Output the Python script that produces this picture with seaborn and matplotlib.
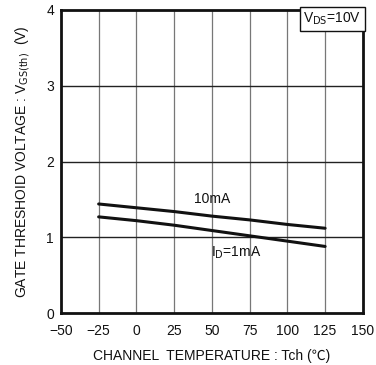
import matplotlib
matplotlib.use("Agg")
import matplotlib.pyplot as plt
import seaborn as sns
import pandas as pd

temps = [-25, 0, 25, 50, 75, 100, 125]
v_10mA = [1.44, 1.39, 1.34, 1.28, 1.23, 1.17, 1.12]
v_1mA = [1.27, 1.22, 1.16, 1.09, 1.02, 0.95, 0.88]
x_ticks = [-50, -25, 0, 25, 50, 75, 100, 125, 150]
y_ticks = [0, 1, 2, 3, 4]

df = pd.DataFrame({
    "T": temps * 2,
    "V": v_10mA + v_1mA,
    "ID": ["10mA"] * len(temps) + ["1mA"] * len(temps),
})

sns.set_theme(style="white")
plt.rcParams["font.family"] = ["Liberation Sans", "DejaVu Sans"]

fig = plt.figure(figsize=(3.76, 3.65), dpi=100)
ax = fig.add_axes([0.162, 0.142, 0.803, 0.831])

sns.lineplot(data=df, x="T", y="V", hue="ID", palette=["#111111", "#111111"],
             linewidth=2.2, legend=False, ax=ax)

ax.set_xlim(-50, 150)
ax.set_ylim(0, 4)
ax.set_xticks(x_ticks)
ax.set_yticks(y_ticks)
ax.set_xticklabels(["\u221250", "\u221225", "0", "25", "50", "75", "100", "125", "150"])
for xv in x_ticks[1:-1]:
    ax.axvline(xv, color="#777777", lw=0.9, zorder=0)
for yv in y_ticks[1:-1]:
    ax.axhline(yv, color="#222222", lw=1.0, zorder=0)
for s in ax.spines.values():
    s.set_linewidth(2.0)
    s.set_color("#111111")
ax.tick_params(axis="both", length=0, labelsize=10, colors="#111111")
ax.tick_params(axis="x", pad=8)
ax.tick_params(axis="y", pad=5)

ax.set_xlabel("CHANNEL  TEMPERATURE : Tch (\u2103)", fontsize=10, labelpad=8,
              color="#111111", family=["Liberation Sans", "Noto Sans CJK JP", "DejaVu Sans"])
ax.set_ylabel("GATE THRESHOID VOLTAGE : V$_{\\mathrm{GS(th)}}$  (V)", fontsize=10,
              labelpad=10, color="#111111")

# VDS=10V box
ax.text(0.995, 0.997, "V$_{\\mathrm{DS}}$=10V", transform=ax.transAxes,
        ha="right", va="top", fontsize=10, color="#111111",
        bbox=dict(boxstyle="square,pad=0.25", fc="white", ec="#111111", lw=1.0))

ax.text(50, 1.50, "10mA", fontsize=10, color="#111111", ha="center", va="center")
ax.text(66, 0.80, "I$_{\\mathrm{D}}$=1mA", fontsize=10, color="#111111", ha="center", va="center")

fig.savefig("out.png", dpi=100)
